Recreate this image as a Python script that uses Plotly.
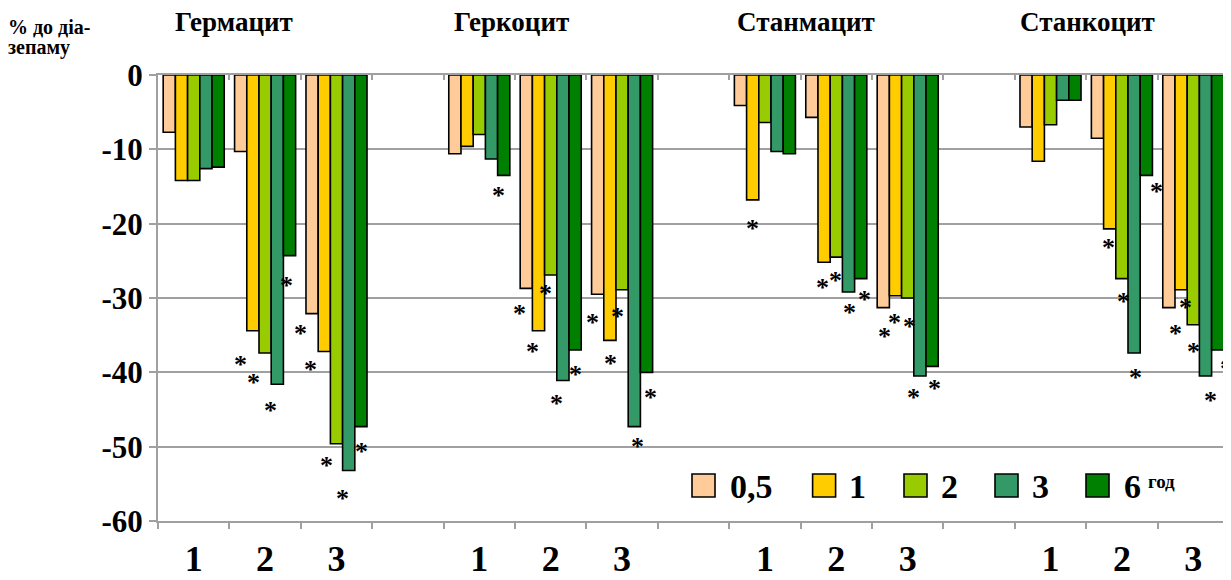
import plotly.graph_objects as go

# ---- data ----
groups = ["Гермацит", "Геркоцит", "Станмацит", "Станкоцит"]
sub_labels = ["1", "2", "3"]
series_names = ["0,5", "1", "2", "3", "6"]
series_colors = ["#FFCC99", "#FFCC00", "#99CC00", "#339966", "#008000"]

# category positions (one blank slot between groups)
positions = [0, 1, 2, 4, 5, 6, 8, 9, 10, 12, 13, 14]

s05 = [-7.7, -10.3, -32.1, -10.6, -28.7, -29.5, -4.1, -5.7, -31.3, -7.0, -8.5, -31.3]
s1 = [-14.2, -34.4, -37.2, -9.6, -34.4, -35.7, -16.8, -25.2, -29.7, -11.6, -20.7, -28.9]
s2 = [-14.2, -37.4, -49.6, -8.0, -26.9, -28.9, -6.4, -24.5, -30.0, -6.7, -27.4, -33.6]
s3 = [-12.6, -41.6, -53.2, -11.3, -41.1, -47.3, -10.3, -29.2, -40.5, -3.4, -37.4, -40.5]
s6 = [-12.4, -24.3, -47.3, -13.5, -37.0, -40.0, -10.6, -27.4, -39.2, -3.4, -13.5, -37.0]
series_values = [s05, s1, s2, s3, s6]

# significance markers (*) : category coordinate and value
star_x = [0.658, 0.835, 1.069, 1.303, 1.499, 1.629, 1.863, 2.353, 2.077,
          4.266, 4.560, 4.934, 4.742, 5.345, 5.084, 5.583, 5.933, 5.835, 6.391, 6.213,
          7.824, 8.810, 8.982, 9.182, 9.388, 9.668, 9.822, 10.022, 10.078, 10.373,
          13.478, 12.810, 13.020, 13.193, 13.744, 13.888, 14.0, 14.234, 14.468]
star_y = [-38.2, -40.6, -44.4, -27.6, -34.1, -38.9, -51.8, -49.9, -56.2,
          -15.5, -31.4, -28.6, -36.5, -39.5, -43.4, -32.5, -31.7, -38.1, -42.6, -49.3,
          -19.9, -27.8, -26.9, -31.2, -29.4, -34.5, -32.5, -33.1, -42.6, -41.5,
          -14.9, -22.4, -29.7, -40.0, -34.1, -30.5, -36.4, -43.1, -38.7]

y_ticks = [0, -10, -20, -30, -40, -50, -60]
y_ticktext = ["0", "-10", "-20", "-30", "-40", "-50", "-60"]

# ---- layout constants (page body has an 8px margin) ----
OFF = 8
SCREEN_W, SCREEN_H = 1231, 580
W, H = SCREEN_W - OFF, SCREEN_H - OFF
PLOT_L, PLOT_R, PLOT_T, PLOT_B = 158, 1229, 75, 521  # screen pixels
L, T = PLOT_L - OFF, PLOT_T - OFF
R, B = W - (PLOT_R - OFF), H - (PLOT_B - OFF)
FONT = "Liberation Serif, Times New Roman, serif"
GRID = "#A0A0A0"

def px_x(px):
    return (px - PLOT_L) / (PLOT_R - PLOT_L)

def px_y(py):
    return (PLOT_B - py) / (PLOT_B - PLOT_T)

fig = go.Figure()
for name, vals, col in zip(series_names, series_values, series_colors):
    fig.add_trace(go.Bar(
        x=positions, y=vals, name=name,
        marker=dict(color=col, line=dict(color="black", width=1.6)),
        showlegend=False,
    ))

# empty trace for the top axis
fig.add_trace(go.Scatter(x=[], y=[], xaxis="x2", showlegend=False))

for sx, sy in zip(star_x, star_y):
    fig.add_annotation(x=sx, y=sy, xref="x", yref="y", text="*", showarrow=False,
                       xanchor="center", yanchor="middle", yshift=-5.5,
                       font=dict(family=FONT, size=26, color="black", weight="bold"))

boundaries = [k - 0.5 for k in range(16)]

fig.update_layout(
    width=W, height=H,
    margin=dict(l=L, r=R, t=T, b=B, pad=0, autoexpand=False),
    plot_bgcolor="white", paper_bgcolor="white",
    barmode="group", bargap=0.145, bargroupgap=0,
    font=dict(family=FONT, color="black"),
    xaxis=dict(
        automargin=False,
        range=[-0.5, 14.5], tickmode="array", tickvals=positions,
        ticktext=sub_labels * 4, ticks="", showgrid=False, zeroline=False,
        showline=True, linecolor=GRID, linewidth=2,
        tickfont=dict(family=FONT, size=36, color="black", weight="bold"),
        ticklabelstandoff=5,
        minor=dict(tickmode="array", tickvals=boundaries, ticks="outside",
                   ticklen=6, tickwidth=2, tickcolor=GRID, showgrid=False),
    ),
    xaxis2=dict(
        automargin=False,
        overlaying="x", side="top", anchor="y", range=[-0.5, 14.5],
        tickmode="array", tickvals=boundaries, ticks="inside", ticklen=5,
        tickwidth=2, tickcolor=GRID, showticklabels=False, showgrid=False,
        zeroline=False, showline=True, linecolor=GRID, linewidth=2,
    ),
    yaxis=dict(
        automargin=False,
        range=[-60, 0], tickmode="array", tickvals=y_ticks, ticktext=y_ticktext,
        showgrid=True, gridcolor=GRID, gridwidth=2, zeroline=False,
        showline=True, linecolor=GRID, linewidth=2,
        ticks="outside", ticklen=7, tickwidth=2, tickcolor=GRID,
        tickfont=dict(family=FONT, size=31, color="black", weight="bold"),
    ),
)

# group titles
title_x = [-0.29, 3.62, 7.58, 11.54]
for g, tx in zip(groups, title_x):
    fig.add_annotation(x=tx, y=px_y(22), xref="x", yref="paper", text=g,
                       showarrow=False, xanchor="left", yanchor="middle",
                       font=dict(family=FONT, size=27, color="black", weight="bold"))

# y-axis title (two lines)
for i, line in enumerate(["% до діа-", "зепаму"]):
    fig.add_annotation(x=px_x(6), y=px_y(27 + 21 * i), xref="paper", yref="paper",
                       text=line, showarrow=False, xanchor="left", yanchor="middle",
                       font=dict(family=FONT, size=20, color="black", weight="bold"))

# manual legend
sq_left = [692, 812.6, 904, 995, 1086]
txt_left = [728, 847, 939, 1030, 1122]
sq_size = 23
sq_top = 474
for name, col, sx, tx in zip(series_names, series_colors, sq_left, txt_left):
    fig.add_shape(type="rect", xref="paper", yref="paper",
                  x0=px_x(sx), x1=px_x(sx + sq_size),
                  y0=px_y(sq_top + sq_size), y1=px_y(sq_top),
                  fillcolor=col, line=dict(color="black", width=1.6))
    fig.add_annotation(x=px_x(tx), y=px_y(486), xref="paper", yref="paper",
                       text=name, showarrow=False, xanchor="left", yanchor="middle",
                       font=dict(family=FONT, size=34, color="black", weight="bold"))
fig.add_annotation(x=px_x(1146), y=px_y(481), xref="paper", yref="paper",
                   text="год", showarrow=False, xanchor="left", yanchor="middle",
                   font=dict(family=FONT, size=19, color="black", weight="bold"))

fig.write_html("out.html")
